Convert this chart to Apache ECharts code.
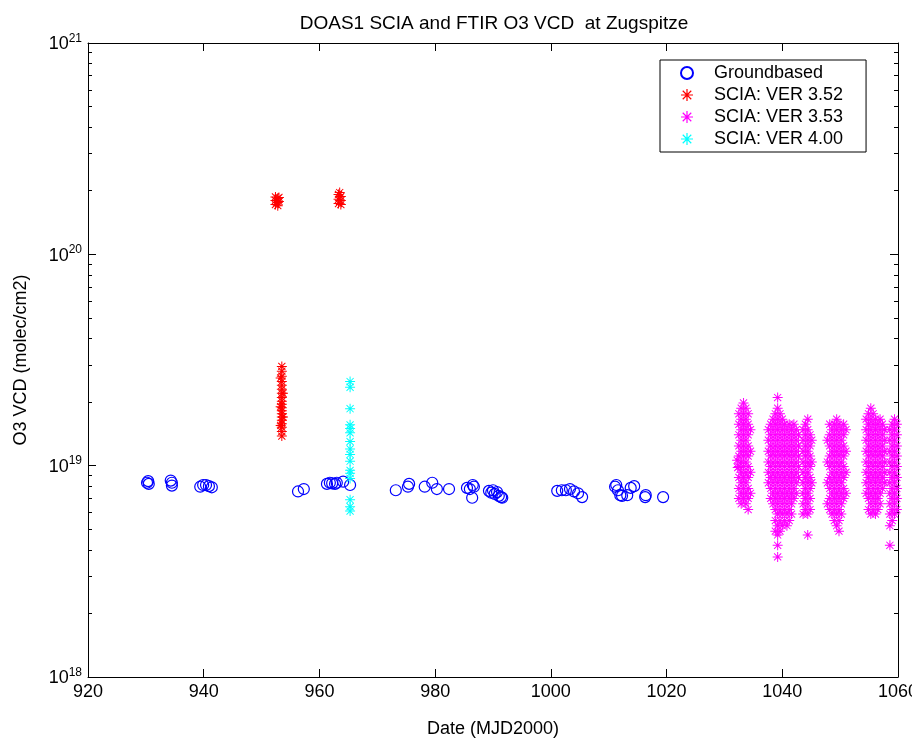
<!DOCTYPE html>
<html>
<head>
<meta charset="utf-8">
<script src="https://cdn.jsdelivr.net/npm/echarts@6/dist/echarts.min.js"></script>
<style>
  html, body { margin: 0; padding: 0; background: #fff; }
  #chart { width: 912px; height: 738px; }
</style>
</head>
<body>
<div id="chart"></div>
<script>
// x ticks (MJD2000) and y range (log, molec/cm2)
const xTicks = [920, 940, 960, 980, 1000, 1020, 1040, 1060];
const yRange = [1e18, 1e21];
const yMinorTicks = [
  2e18, 3e18, 4e18, 5e18, 6e18, 7e18, 8e18, 9e18,
  2e19, 3e19, 4e19, 5e19, 6e19, 7e19, 8e19, 9e19,
  2e20, 3e20, 4e20, 5e20, 6e20, 7e20, 8e20, 9e20
];
const seriesNames = ['Groundbased', 'SCIA: VER 3.52', 'SCIA: VER 3.53', 'SCIA: VER 4.00'];

// groundbased O3 VCD [date, vcd]
const groundbased = [
  [930.2, 8.3e18], [930.4, 8.45e18], [930.5, 8.2e18],
  [934.3, 8.5e18], [934.5, 8.3e18], [934.5, 8.05e18],
  [939.4, 7.95e18], [939.9, 8.1e18], [940.4, 8.1e18], [940.9, 8.0e18], [941.4, 7.9e18],
  [956.3, 7.55e18], [957.3, 7.75e18],
  [961.3, 8.2e18], [961.8, 8.3e18], [962.2, 8.25e18], [962.7, 8.2e18], [963.0, 8.3e18],
  [964.1, 8.4e18], [965.3, 8.1e18],
  [973.2, 7.65e18], [975.3, 7.95e18], [975.5, 8.2e18],
  [978.2, 7.95e18], [979.5, 8.3e18], [980.3, 7.75e18], [982.4, 7.75e18],
  [985.5, 7.85e18], [986.0, 7.75e18], [986.5, 8.1e18], [986.7, 7.95e18], [986.4, 7.05e18],
  [989.3, 7.6e18], [989.7, 7.45e18], [990.0, 7.65e18], [990.3, 7.35e18], [990.7, 7.5e18],
  [991.0, 7.2e18], [991.4, 7.1e18], [991.6, 7.05e18],
  [1001.1, 7.6e18], [1001.9, 7.65e18], [1002.6, 7.65e18], [1003.3, 7.75e18], [1004.0, 7.55e18],
  [1004.7, 7.4e18], [1005.4, 7.1e18],
  [1011.1, 7.95e18], [1011.3, 8.1e18], [1011.6, 7.65e18], [1012.0, 7.25e18], [1012.3, 7.2e18],
  [1013.2, 7.25e18], [1013.8, 7.85e18], [1014.4, 8.0e18],
  [1016.3, 7.1e18], [1016.4, 7.25e18], [1019.4, 7.1e18]
];

// SCIA version 3.52
const scia352 = [
  [952.4, 1.72e20], [952.4, 1.8e20], [952.4, 1.87e20], [952.8, 1.7e20], [952.8, 1.76e20],
  [952.8, 1.84e20], [953.0, 1.78e20], [953.0, 1.86e20],
  [963.3, 1.74e20], [963.3, 1.82e20], [963.3, 1.92e20], [963.7, 1.72e20], [963.7, 1.8e20],
  [963.7, 1.88e20], [963.5, 1.96e20],
  [953.5, 2.95e19], [953.5, 2.8e19], [953.5, 2.65e19], [953.5, 2.5e19], [953.5, 2.4e19],
  [953.5, 2.3e19], [953.5, 2.2e19], [953.5, 2.1e19], [953.5, 2.02e19], [953.5, 1.95e19],
  [953.5, 1.88e19], [953.5, 1.82e19], [953.5, 1.76e19], [953.5, 1.7e19], [953.5, 1.64e19],
  [953.5, 1.58e19], [953.5, 1.52e19], [953.5, 1.45e19], [953.5, 1.38e19],
  [953.3, 2.6e19], [953.7, 2.2e19], [953.3, 1.9e19], [953.7, 1.7e19], [953.3, 1.55e19]
];

// SCIA version 3.53: one entry per date column, [date, [vcd, ...]]
const scia353Columns = [
  [1032.2, [1.06e19]],
  [1032.3, [9.8e18]],
  [1032.5, [1.76e19, 1.57e19, 1.40e19, 1.24e19, 1.11e19, 9.9e18, 8.8e18, 7.8e18, 7.0e18]],
  [1032.9, [1.87e19, 1.66e19, 1.48e19, 1.32e19, 1.17e19, 1.04e19, 9.3e18, 8.3e18, 7.4e18, 6.6e18]],
  [1033.3, [1.98e19, 1.76e19, 1.57e19, 1.40e19, 1.24e19, 1.11e19, 9.9e18, 8.8e18, 7.8e18, 7.0e18]],
  [1033.7, [1.87e19, 1.66e19, 1.48e19, 1.32e19, 1.17e19, 1.04e19, 9.3e18, 8.3e18, 7.4e18, 6.6e18]],
  [1034.1, [1.76e19, 1.57e19, 1.40e19, 1.24e19, 1.11e19, 9.9e18, 8.8e18, 7.8e18, 7.0e18, 6.2e18]],
  [1034.5, [1.48e19, 1.17e19, 9.3e18, 7.4e18]],

  [1037.6, [1.48e19, 1.32e19, 1.17e19, 1.04e19, 9.3e18, 8.3e18]],
  [1038.0, [1.57e19, 1.40e19, 1.24e19, 1.11e19, 9.9e18, 8.8e18, 7.8e18, 7.0e18]],
  [1038.4, [1.66e19, 1.48e19, 1.32e19, 1.17e19, 1.04e19, 9.3e18, 8.3e18, 7.4e18, 6.6e18]],
  [1038.8, [1.76e19, 1.57e19, 1.40e19, 1.24e19, 1.11e19, 9.9e18, 8.8e18, 7.8e18, 7.0e18, 6.2e18, 5.5e18, 4.9e18]],
  [1039.2, [2.10e19, 1.87e19, 1.66e19, 1.48e19, 1.32e19, 1.17e19, 1.04e19, 9.3e18, 8.3e18, 7.4e18, 6.6e18, 5.9e18, 5.2e18, 4.7e18, 4.2e18, 3.7e18]],
  [1039.6, [1.76e19, 1.57e19, 1.40e19, 1.24e19, 1.11e19, 9.9e18, 8.8e18, 7.8e18, 7.0e18, 6.2e18, 5.5e18, 4.9e18]],
  [1040.0, [1.66e19, 1.48e19, 1.32e19, 1.17e19, 1.04e19, 9.3e18, 8.3e18, 7.4e18, 6.6e18, 5.9e18, 5.2e18]],
  [1040.4, [1.57e19, 1.40e19, 1.24e19, 1.11e19, 9.9e18, 8.8e18, 7.8e18, 7.0e18, 6.2e18, 5.5e18]],
  [1040.8, [1.48e19, 1.32e19, 1.17e19, 1.04e19, 9.3e18, 8.3e18, 7.4e18, 6.6e18, 5.9e18, 5.2e18]],
  [1041.2, [1.57e19, 1.40e19, 1.24e19, 1.11e19, 9.9e18, 8.8e18, 7.8e18, 7.0e18, 6.2e18, 5.5e18]],
  [1041.6, [1.48e19, 1.32e19, 1.17e19, 1.04e19, 9.3e18, 8.3e18, 7.4e18, 6.6e18, 5.9e18]],
  [1042.0, [1.57e19, 1.40e19, 1.24e19, 1.11e19, 9.9e18, 8.8e18, 7.8e18, 7.0e18]],
  [1042.4, [1.48e19, 1.32e19, 1.17e19, 1.04e19, 9.3e18, 8.3e18, 7.4e18]],
  [1042.8, [1.40e19, 1.24e19, 1.11e19, 9.9e18, 8.8e18]],

  [1043.6, [1.48e19, 1.32e19, 1.17e19, 1.04e19, 9.3e18, 8.3e18, 7.4e18, 6.6e18, 5.9e18]],
  [1044.0, [1.57e19, 1.40e19, 1.24e19, 1.11e19, 9.9e18, 8.8e18, 7.8e18, 7.0e18, 6.2e18]],
  [1044.4, [1.66e19, 1.48e19, 1.32e19, 1.17e19, 1.04e19, 9.3e18, 8.3e18, 7.4e18, 6.6e18, 5.9e18, 4.7e18]],
  [1044.8, [1.40e19, 1.24e19, 1.11e19, 9.9e18, 8.8e18, 7.8e18, 7.0e18, 6.2e18]],
  [1045.1, [1.32e19, 1.04e19, 8.3e18]],

  [1047.8, [1.32e19, 1.04e19, 8.3e18, 6.6e18]],
  [1048.2, [1.57e19, 1.40e19, 1.24e19, 1.11e19, 9.9e18, 8.8e18, 7.8e18, 7.0e18, 6.2e18]],
  [1048.6, [1.48e19, 1.32e19, 1.17e19, 1.04e19, 9.3e18, 8.3e18, 7.4e18, 6.6e18, 5.9e18]],
  [1049.0, [1.57e19, 1.40e19, 1.24e19, 1.11e19, 9.9e18, 8.8e18, 7.8e18, 7.0e18, 6.2e18, 5.5e18]],
  [1049.4, [1.66e19, 1.48e19, 1.32e19, 1.17e19, 1.04e19, 9.3e18, 8.3e18, 7.4e18, 6.6e18, 5.9e18, 5.2e18]],
  [1049.8, [1.57e19, 1.40e19, 1.24e19, 1.11e19, 9.9e18, 8.8e18, 7.8e18, 7.0e18, 6.2e18, 5.5e18, 4.9e18]],
  [1050.2, [1.48e19, 1.32e19, 1.17e19, 1.04e19, 9.3e18, 8.3e18, 7.4e18, 6.6e18, 5.9e18]],
  [1050.6, [1.57e19, 1.40e19, 1.24e19, 1.11e19, 9.9e18, 8.8e18, 7.8e18, 7.0e18]],
  [1051.0, [1.48e19, 1.17e19, 9.3e18, 7.4e18]],

  [1054.5, [1.66e19, 1.48e19, 1.32e19, 1.17e19, 1.04e19, 9.3e18, 8.3e18, 7.4e18]],
  [1054.9, [1.76e19, 1.57e19, 1.40e19, 1.24e19, 1.11e19, 9.9e18, 8.8e18, 7.8e18, 7.0e18, 6.2e18]],
  [1055.3, [1.87e19, 1.66e19, 1.48e19, 1.32e19, 1.17e19, 1.04e19, 9.3e18, 8.3e18, 7.4e18, 6.6e18, 5.9e18]],
  [1055.7, [1.76e19, 1.57e19, 1.40e19, 1.24e19, 1.11e19, 9.9e18, 8.8e18, 7.8e18, 7.0e18, 6.2e18]],
  [1056.1, [1.66e19, 1.48e19, 1.32e19, 1.17e19, 1.04e19, 9.3e18, 8.3e18, 7.4e18, 6.6e18, 5.9e18]],
  [1056.5, [1.57e19, 1.40e19, 1.24e19, 1.11e19, 9.9e18, 8.8e18, 7.8e18, 7.0e18, 6.2e18]],
  [1056.9, [1.66e19, 1.48e19, 1.32e19, 1.17e19, 1.04e19, 9.3e18, 8.3e18, 7.4e18, 6.6e18]],
  [1057.3, [1.57e19, 1.40e19, 1.24e19, 1.11e19, 9.9e18, 8.8e18, 7.8e18]],
  [1057.7, [1.48e19, 1.32e19, 1.17e19, 1.04e19, 9.3e18, 8.3e18]],

  [1058.6, [1.48e19, 1.32e19, 1.17e19, 1.04e19, 9.3e18, 8.3e18, 7.4e18, 6.6e18, 5.9e18, 5.2e18, 4.2e18]],
  [1059.0, [1.57e19, 1.40e19, 1.24e19, 1.11e19, 9.9e18, 8.8e18, 7.8e18, 7.0e18, 6.2e18, 5.5e18]],
  [1059.4, [1.66e19, 1.48e19, 1.32e19, 1.17e19, 1.04e19, 9.3e18, 8.3e18, 7.4e18, 6.6e18, 5.9e18]],
  [1059.8, [1.57e19, 1.40e19, 1.24e19, 1.11e19, 9.9e18, 8.8e18, 7.8e18, 7.0e18, 6.2e18]]
];
const scia353 = [];
scia353Columns.forEach(function (col) {
  col[1].forEach(function (v) {
    scia353.push([col[0], v]);
  });
});

// SCIA version 4.00
const scia400 = [
  [965.3, 2.5e19], [965.3, 2.35e19], [965.3, 1.86e19], [965.3, 1.56e19], [965.3, 1.5e19],
  [965.3, 1.43e19], [965.3, 1.3e19], [965.3, 1.2e19], [965.3, 1.13e19], [965.3, 1.05e19],
  [965.3, 9.5e18], [965.3, 9.2e18], [965.3, 8.7e18], [965.3, 6.9e18], [965.3, 6.4e18],
  [965.3, 6.1e18]
];

// matlab style asterisk marker
const STAR = 'path://M9,0h2v20h-2z M0,9h20v2h-20z M2.2,3.6l1.4,-1.4l14.2,14.2l-1.4,1.4z M16.4,2.2l1.4,1.4l-14.2,14.2l-1.4,-1.4z';
const FONT = 'Liberation Sans';

function starSeries(name, data, color) {
  return {
    name: name,
    type: 'scatter',
    data: data,
    symbol: STAR,
    symbolSize: 10,
    itemStyle: { color: color, opacity: 1 },
    emphasis: { disabled: true }
  };
}

function yAxisBox(position, minor, withLabels) {
  const tick = {
    show: true,
    inside: true,
    length: minor ? 4 : 8,
    lineStyle: { color: '#000' }
  };
  if (minor) tick.customValues = yMinorTicks;
  return {
    type: 'log',
    logBase: 10,
    position: position,
    min: yRange[0],
    max: yRange[1],
    splitNumber: 3,
    splitLine: { show: false },
    axisLine: { show: !minor, lineStyle: { color: '#000', width: 1 } },
    axisTick: tick,
    axisLabel: withLabels ? {
      show: true,
      margin: 6,
      showMinLabel: true,
      showMaxLabel: true,
      hideOverlap: false,
      formatter: function (v) {
        return '{b|10}{e|' + Math.round(Math.log10(v)) + '}';
      },
      rich: {
        b: { fontSize: 18, fontFamily: FONT, color: '#000', verticalAlign: 'bottom' },
        e: { fontSize: 12, fontFamily: FONT, color: '#000', verticalAlign: 'bottom', padding: [0, 0, 9, 0] }
      }
    } : { show: false }
  };
}

const chart = echarts.init(document.getElementById('chart'), null, { renderer: 'canvas' });

const yAxes = [
  yAxisBox('left', false, true),
  yAxisBox('left', true, false),
  yAxisBox('right', false, false),
  yAxisBox('right', true, false)
];
yAxes[0].name = 'O3 VCD (molec/cm2)';
yAxes[0].nameLocation = 'middle';
yAxes[0].nameGap = 58;
yAxes[0].nameTextStyle = { fontSize: 18, fontFamily: FONT, color: '#000' };

chart.setOption({
  animation: false,
  backgroundColor: '#fff',
  title: {
    text: 'DOAS1 SCIA and FTIR O3 VCD  at Zugspitze',
    left: 489,
    top: 9,
    textAlign: 'center',
    textStyle: { fontSize: 19, fontWeight: 'normal', fontFamily: FONT, color: '#000' }
  },
  legend: {
    data: seriesNames,
    orient: 'vertical',
    left: 660,
    top: 60,
    padding: [4, 23, 4, 20],
    itemWidth: 44,
    itemHeight: 12,
    itemGap: 4,
    backgroundColor: '#fff',
    borderColor: '#000',
    borderWidth: 1,
    borderRadius: 0,
    textStyle: { fontSize: 18, fontFamily: FONT, color: '#000' }
  },
  grid: {
    left: 88,
    right: 14,
    top: 43,
    bottom: 61,
    outerBoundsMode: 'none',
    containLabel: false
  },
  xAxis: [
    {
      type: 'value',
      position: 'bottom',
      min: xTicks[0],
      max: xTicks[xTicks.length - 1],
      interval: 20,
      name: 'Date (MJD2000)',
      nameLocation: 'middle',
      nameGap: 43,
      nameTextStyle: { fontSize: 18, fontFamily: FONT, color: '#000' },
      splitLine: { show: false },
      axisLine: { show: true, lineStyle: { color: '#000', width: 1 } },
      axisTick: { show: true, inside: true, length: 8, lineStyle: { color: '#000' } },
      axisLabel: {
        show: true, margin: 6, fontSize: 18, fontFamily: FONT, color: '#000',
        showMinLabel: true, showMaxLabel: true, hideOverlap: false,
        formatter: function (v) { return String(v); }
      }
    },
    {
      type: 'value',
      position: 'top',
      min: xTicks[0],
      max: xTicks[xTicks.length - 1],
      interval: 20,
      splitLine: { show: false },
      axisLine: { show: true, lineStyle: { color: '#000', width: 1 } },
      axisTick: { show: true, inside: true, length: 8, lineStyle: { color: '#000' } },
      axisLabel: { show: false }
    }
  ],
  yAxis: yAxes,
  series: [
    {
      name: seriesNames[0],
      type: 'scatter',
      data: groundbased,
      symbol: 'circle',
      symbolSize: 11,
      itemStyle: { color: 'rgba(0,0,0,0)', borderColor: '#0000ff', borderWidth: 1.2, opacity: 1 },
      emphasis: { disabled: true }
    },
    starSeries(seriesNames[1], scia352, '#ff0000'),
    starSeries(seriesNames[2], scia353, '#ff00ff'),
    starSeries(seriesNames[3], scia400, '#00ffff')
  ]
});
</script>
</body>
</html>
